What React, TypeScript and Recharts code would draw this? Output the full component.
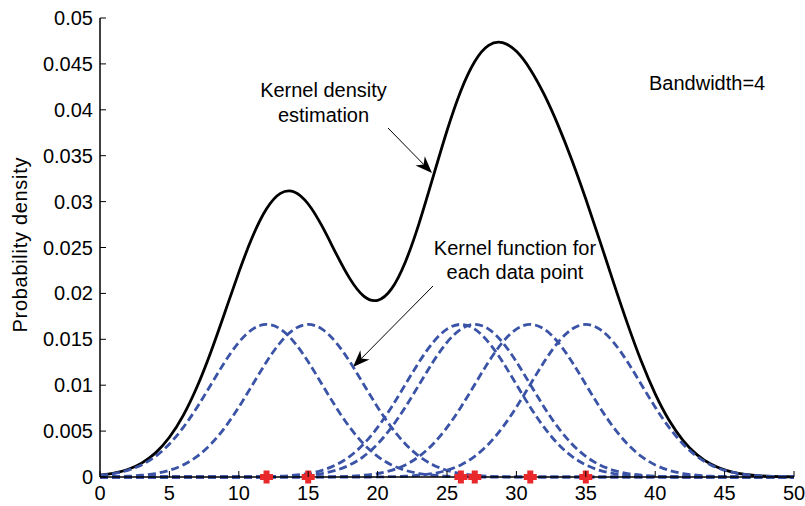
import React from 'react';
import {
  ComposedChart,
  Line,
  Scatter,
  XAxis,
  YAxis,
  Customized,
} from 'recharts';

// Sample positions along the x axis
const X_VALUES = [
  0, 1, 2, 3, 4, 5, 6, 7, 8, 9,
  10, 11, 12, 13, 14, 15, 16, 17, 18, 19,
  20, 21, 22, 23, 24, 25, 26, 27, 28, 29,
  30, 31, 32, 33, 34, 35, 36, 37, 38, 39,
  40, 41, 42, 43, 44, 45, 46, 47, 48, 49,
  50,
];

// Kernel density estimate (sum of all kernels)
const KDE = [
  0.0002, 0.00042, 0.00082, 0.00151, 0.00263, 0.00433, 0.00672, 0.00986, 0.01368, 0.01795,
  0.02229, 0.02622, 0.02922, 0.0309, 0.03105, 0.02974, 0.02732, 0.02437, 0.02161, 0.01971,
  0.01925, 0.02049, 0.02343, 0.02769, 0.0327, 0.03772, 0.04208, 0.04527, 0.04702, 0.04732,
  0.04637, 0.0444, 0.04167, 0.03833, 0.03451, 0.03028, 0.02578, 0.02118, 0.01671, 0.0126,
  0.00906, 0.00618, 0.004, 0.00244, 0.00141, 0.00077, 0.00039, 0.00019, 0.00009, 0.00004,
  0.00002,
];

// Individual kernels, one per observation
const KERNEL_12 = [
  0.00019, 0.00038, 0.00073, 0.00132, 0.00225, 0.0036, 0.0054, 0.00761, 0.01008, 0.01255,
  0.01467, 0.01611, 0.01662, 0.01611, 0.01467, 0.01255, 0.01008, 0.00761, 0.0054, 0.0036,
  0.00225, 0.00132, 0.00073, 0.00038, 0.00019, 0.00008, 0.00004, 0.00001, 0, 0,
  0, 0, 0, 0, 0, 0, 0, 0, 0, 0,
  0, 0, 0, 0, 0, 0, 0, 0, 0, 0,
  0,
];
const KERNEL_15 = [
  0.00001, 0.00004, 0.00008, 0.00019, 0.00038, 0.00073, 0.00132, 0.00225, 0.0036, 0.0054,
  0.00761, 0.01008, 0.01255, 0.01467, 0.01611, 0.01662, 0.01611, 0.01467, 0.01255, 0.01008,
  0.00761, 0.0054, 0.0036, 0.00225, 0.00132, 0.00073, 0.00038, 0.00019, 0.00008, 0.00004,
  0.00001, 0, 0, 0, 0, 0, 0, 0, 0, 0,
  0, 0, 0, 0, 0, 0, 0, 0, 0, 0,
  0,
];
const KERNEL_26 = [
  0, 0, 0, 0, 0, 0, 0, 0, 0, 0,
  0, 0.00001, 0.00004, 0.00008, 0.00019, 0.00038, 0.00073, 0.00132, 0.00225, 0.0036,
  0.0054, 0.00761, 0.01008, 0.01255, 0.01467, 0.01611, 0.01662, 0.01611, 0.01467, 0.01255,
  0.01008, 0.00761, 0.0054, 0.0036, 0.00225, 0.00132, 0.00073, 0.00038, 0.00019, 0.00008,
  0.00004, 0.00001, 0, 0, 0, 0, 0, 0, 0, 0,
  0,
];
const KERNEL_27 = [
  0, 0, 0, 0, 0, 0, 0, 0, 0, 0,
  0, 0, 0.00001, 0.00004, 0.00008, 0.00019, 0.00038, 0.00073, 0.00132, 0.00225,
  0.0036, 0.0054, 0.00761, 0.01008, 0.01255, 0.01467, 0.01611, 0.01662, 0.01611, 0.01467,
  0.01255, 0.01008, 0.00761, 0.0054, 0.0036, 0.00225, 0.00132, 0.00073, 0.00038, 0.00019,
  0.00008, 0.00004, 0.00001, 0, 0, 0, 0, 0, 0, 0,
  0,
];
const KERNEL_31 = [
  0, 0, 0, 0, 0, 0, 0, 0, 0, 0,
  0, 0, 0, 0, 0, 0, 0.00001, 0.00004, 0.00008, 0.00019,
  0.00038, 0.00073, 0.00132, 0.00225, 0.0036, 0.0054, 0.00761, 0.01008, 0.01255, 0.01467,
  0.01611, 0.01662, 0.01611, 0.01467, 0.01255, 0.01008, 0.00761, 0.0054, 0.0036, 0.00225,
  0.00132, 0.00073, 0.00038, 0.00019, 0.00008, 0.00004, 0.00001, 0, 0, 0,
  0,
];
const KERNEL_35 = [
  0, 0, 0, 0, 0, 0, 0, 0, 0, 0,
  0, 0, 0, 0, 0, 0, 0, 0, 0, 0,
  0.00001, 0.00004, 0.00008, 0.00019, 0.00038, 0.00073, 0.00132, 0.00225, 0.0036, 0.0054,
  0.00761, 0.01008, 0.01255, 0.01467, 0.01611, 0.01662, 0.01611, 0.01467, 0.01255, 0.01008,
  0.00761, 0.0054, 0.0036, 0.00225, 0.00132, 0.00073, 0.00038, 0.00019, 0.00008, 0.00004,
  0.00001,
];

// Observed data points
const DATA_POINTS = [12, 15, 26, 27, 31, 35];

const X_TICKS = [0, 5, 10, 15, 20, 25, 30, 35, 40, 45, 50];
const Y_TICKS = [0, 0.005, 0.01, 0.015, 0.02, 0.025, 0.03, 0.035, 0.04, 0.045, 0.05];

const KERNELS = [
  { key: 'k12', values: KERNEL_12 },
  { key: 'k15', values: KERNEL_15 },
  { key: 'k26', values: KERNEL_26 },
  { key: 'k27', values: KERNEL_27 },
  { key: 'k31', values: KERNEL_31 },
  { key: 'k35', values: KERNEL_35 },
];

const rows = X_VALUES.map((x, i) => {
  const row: Record<string, number> = { x, kde: KDE[i] };
  KERNELS.forEach((k) => {
    row[k.key] = k.values[i];
  });
  return row;
});

const points = DATA_POINTS.map((x) => ({ x, y: 0 }));

const FONT = '"Liberation Sans", Arial, Helvetica, sans-serif';
const FONT_SIZE = 20;
const BLUE = '#3a53a6';
const RED = '#e8282b';
const TICK_LEN = 6;

const BottomTick = (props: any) => {
  const { x, y, payload } = props;
  return (
    <g>
      <line x1={x} y1={y} x2={x} y2={y - TICK_LEN} stroke="#000" strokeWidth={1} />
      <text x={x} y={y + 23} textAnchor="middle" fontSize={FONT_SIZE} fontFamily={FONT} fill="#000">
        {payload.value}
      </text>
    </g>
  );
};

const TopTick = (props: any) => {
  const { x, y } = props;
  return <line x1={x} y1={y} x2={x} y2={y + TICK_LEN} stroke="#000" strokeWidth={1} />;
};

const LeftTick = (props: any) => {
  const { x, y, payload } = props;
  return (
    <g>
      <line x1={x} y1={y} x2={x + TICK_LEN} y2={y} stroke="#000" strokeWidth={1} />
      <text x={x - 7} y={y + 7} textAnchor="end" fontSize={FONT_SIZE} fontFamily={FONT} fill="#000">
        {String(payload.value)}
      </text>
    </g>
  );
};

const RightTick = (props: any) => {
  const { x, y } = props;
  return <line x1={x} y1={y} x2={x - TICK_LEN} y2={y} stroke="#000" strokeWidth={1} />;
};

const PlusMarker = (props: any) => {
  const { cx, cy } = props;
  const a = 6.5;
  const t = 3;
  const d =
    `M${cx - t},${cy - a} H${cx + t} V${cy - t} H${cx + a} V${cy + t} H${cx + t} ` +
    `V${cy + a} H${cx - t} V${cy + t} H${cx - a} V${cy - t} H${cx - t} Z`;
  return <path d={d} fill={RED} />;
};

// Annotation arrow with a barbed, filled head
const Arrow = ({ x1, y1, x2, y2 }: { x1: number; y1: number; x2: number; y2: number }) => {
  const ang = Math.atan2(y2 - y1, x2 - x1);
  const c = Math.cos(ang);
  const s = Math.sin(ang);
  const pt = (lx: number, ly: number) => [x2 + c * lx - s * ly, y2 + s * lx + c * ly];
  const L = 17;
  const W = 6.5;
  const N = 12;
  const [ax, ay] = pt(-L, -W);
  const [nx, ny] = pt(-N, 0);
  const [bx, by] = pt(-L, W);
  return (
    <g>
      <line x1={x1} y1={y1} x2={nx} y2={ny} stroke="#000" strokeWidth={1} />
      <path d={`M${x2},${y2} L${ax},${ay} L${nx},${ny} L${bx},${by} Z`} fill="#000" />
    </g>
  );
};

const Annotations = () => (
  <g fontFamily={FONT} fill="#000">
    <text
      x={27}
      y={245}
      fontSize={FONT_SIZE}
      textAnchor="middle"
      transform="rotate(-90, 27, 245)"
      textLength={175}
      lengthAdjust="spacing"
    >
      Probability density
    </text>
    <text x={323.5} y={97} fontSize={FONT_SIZE} textAnchor="middle">Kernel density</text>
    <text x={323.5} y={122} fontSize={FONT_SIZE} textAnchor="middle">estimation</text>
    <Arrow x1={388} y1={128} x2={432} y2={173} />
    <text x={515} y={255} fontSize={FONT_SIZE} textAnchor="middle">Kernel function for</text>
    <text x={515} y={279} fontSize={FONT_SIZE} textAnchor="middle">each data point</text>
    <Arrow x1={433} y1={286} x2={353} y2={367} />
    <text x={649} y={90} fontSize={FONT_SIZE} textAnchor="start">Bandwidth=4</text>
  </g>
);

export default function App() {
  return (
    <div style={{ position: 'absolute', left: 0, top: 0, width: 805, height: 506, background: '#fff' }}>
      <ComposedChart
        width={805}
        height={506}
        data={rows}
        margin={{ top: 18, right: 11, bottom: 0, left: 0 }}
      >
        <XAxis
          xAxisId="bottom"
          dataKey="x"
          type="number"
          domain={[0, 50]}
          ticks={X_TICKS}
          interval={0}
          height={29}
          tickSize={0}
          tickMargin={0}
          tickLine={false}
          axisLine={{ stroke: '#000', strokeWidth: 1.5 }}
          tick={<BottomTick />}
        />
        <XAxis
          xAxisId="top"
          orientation="top"
          dataKey="x"
          type="number"
          domain={[0, 50]}
          ticks={X_TICKS}
          interval={0}
          height={0}
          tickSize={0}
          tickMargin={0}
          tickLine={false}
          axisLine={{ stroke: '#000', strokeWidth: 1.5 }}
          tick={<TopTick />}
        />
        <YAxis
          yAxisId="left"
          type="number"
          domain={[0, 0.05]}
          ticks={Y_TICKS}
          interval={0}
          width={100}
          tickSize={0}
          tickMargin={0}
          tickLine={false}
          axisLine={{ stroke: '#000', strokeWidth: 1.5 }}
          tick={<LeftTick />}
        />
        <YAxis
          yAxisId="right"
          orientation="right"
          type="number"
          domain={[0, 0.05]}
          ticks={Y_TICKS}
          interval={0}
          width={0}
          tickSize={0}
          tickMargin={0}
          tickLine={false}
          axisLine={{ stroke: '#000', strokeWidth: 1.5 }}
          tick={<RightTick />}
        />
        <Line
          xAxisId="bottom"
          yAxisId="left"
          dataKey="kde"
          type="natural"
          stroke="#000"
          strokeWidth={2.8}
          dot={false}
          activeDot={false}
          isAnimationActive={false}
        />
        {KERNELS.map((k) => (
          <Line
            key={k.key}
            xAxisId="bottom"
            yAxisId="left"
            dataKey={k.key}
            type="natural"
            stroke={BLUE}
            strokeWidth={2.8}
            strokeDasharray="8 4"
            dot={false}
            activeDot={false}
            isAnimationActive={false}
          />
        ))}
        <Scatter
          xAxisId="bottom"
          yAxisId="left"
          data={points}
          dataKey="y"
          shape={<PlusMarker />}
          isAnimationActive={false}
        />
        <Customized component={<Annotations />} />
      </ComposedChart>
    </div>
  );
}
